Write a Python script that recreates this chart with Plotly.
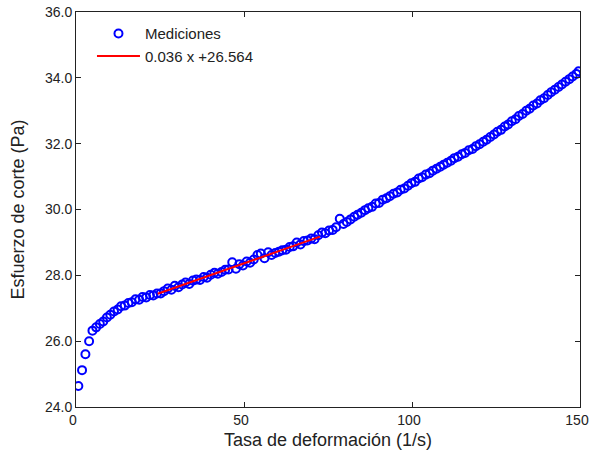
import plotly.graph_objects as go

# Shear-rate sweep: measured shear stress
tasa = [
    0.7, 1.8, 2.8, 3.9, 4.9, 6.0, 7.1, 8.1, 9.2, 10.2, 11.3, 12.4, 13.4, 14.5, 15.6,
    16.6, 17.7, 18.8, 19.8, 20.9, 22.0, 23.0, 24.1, 25.2, 26.2, 27.3, 28.4, 29.4, 30.5,
    31.6, 32.6, 33.7, 34.8, 35.8, 36.9, 38.0, 39.0, 40.1, 41.2, 42.2, 43.3, 44.4, 45.4,
    46.5, 47.6, 48.6, 49.7, 50.8, 51.8, 52.9, 54.0, 55.0, 56.1, 57.2, 58.2, 59.3, 60.4,
    61.4, 62.5, 63.6, 64.6, 65.7, 66.8, 67.8, 68.9, 70.0, 71.0, 72.1, 73.2, 74.2, 75.3,
    76.4, 77.4, 78.5, 79.6, 80.6, 81.7, 82.8, 83.8, 84.9, 86.0, 87.0, 88.1, 89.2, 90.2,
    91.3, 92.4, 93.4, 94.5, 95.6, 96.6, 97.7, 98.8, 99.8, 100.9, 102.0, 103.0, 104.1,
    105.2, 106.2, 107.3, 108.4, 109.4, 110.5, 111.6, 112.6, 113.7, 114.8, 115.8, 116.9,
    118.0, 119.0, 120.1, 121.2, 122.2, 123.3, 124.4, 125.4, 126.5, 127.6, 128.6, 129.7,
    130.8, 131.8, 132.9, 134.0, 135.0, 136.1, 137.2, 138.2, 139.3, 140.4, 141.4, 142.5,
    143.6, 144.6, 145.7, 146.8, 147.8, 148.9, 149.6,
]
esfuerzo = [
    24.64, 25.12, 25.60, 26.00, 26.32, 26.42, 26.52, 26.60, 26.72, 26.80, 26.90, 26.96,
    27.06, 27.08, 27.16, 27.18, 27.27, 27.26, 27.34, 27.33, 27.40, 27.39, 27.45, 27.45,
    27.52, 27.60, 27.56, 27.68, 27.64, 27.72, 27.78, 27.74, 27.84, 27.87, 27.86, 27.95,
    27.93, 28.02, 28.08, 28.05, 28.10, 28.17, 28.18, 28.40, 28.20, 28.34, 28.30, 28.42,
    28.38, 28.48, 28.62, 28.66, 28.52, 28.70, 28.62, 28.68, 28.72, 28.76, 28.78, 28.86,
    28.88, 29.00, 28.94, 29.04, 29.06, 29.12, 29.10, 29.22, 29.30, 29.28, 29.36, 29.38,
    29.46, 29.72, 29.56, 29.62, 29.70, 29.78, 29.84, 29.90, 29.98, 30.04, 30.08, 30.18,
    30.20, 30.30, 30.34, 30.40, 30.48, 30.52, 30.60, 30.64, 30.72, 30.80, 30.84, 30.94,
    30.98, 31.06, 31.10, 31.18, 31.24, 31.30, 31.36, 31.42, 31.48, 31.56, 31.60, 31.68,
    31.72, 31.80, 31.84, 31.92, 31.98, 32.06, 32.12, 32.20, 32.28, 32.36, 32.42, 32.52,
    32.58, 32.68, 32.74, 32.84, 32.90, 33.00, 33.06, 33.16, 33.22, 33.32, 33.38, 33.48,
    33.56, 33.64, 33.72, 33.80, 33.88, 33.96, 34.04, 34.12, 34.20,
]

# Linear fit over the middle range
pendiente = 0.036
intercepto = 26.564
ajuste_x = [24.3, 72.6]
ajuste_y = [pendiente * v + intercepto for v in ajuste_x]

x_ticks = [0, 50, 100, 150]
y_ticks = [24, 26, 28, 30, 32, 34, 36]

FONT = "Liberation Sans, Arial, sans-serif"
INK = "#222222"

fig = go.Figure()
fig.add_trace(go.Scatter(
    x=tasa, y=esfuerzo, mode="markers", name="Mediciones",
    marker=dict(symbol="circle-open", size=8, color="#0000ff",
                line=dict(width=2, color="#0000ff")),
))
fig.add_trace(go.Scatter(
    x=ajuste_x, y=ajuste_y, mode="lines",
    name=f"{pendiente:.3f} x +{intercepto:.3f}",
    line=dict(color="#ff0000", width=2),
))

axis_common = dict(
    showline=True, linecolor=INK, linewidth=1, mirror="ticks",
    ticks="inside", ticklen=5, tickcolor=INK,
    showgrid=False, zeroline=False, automargin=False,
    ticklabeloverflow="allow",
    tickfont=dict(family=FONT, size=14, color=INK),
)

fig.update_layout(
    width=590, height=454,
    margin=dict(l=76, r=10, t=12, b=47),
    paper_bgcolor="white", plot_bgcolor="white",
    font=dict(family=FONT, color=INK),
    xaxis=dict(
        range=[0, 150], tickvals=x_ticks, ticktext=[str(v) for v in x_ticks],
        ticklabelshift=-3,
        title=dict(text="Tasa de deformación (1/s)", standoff=6,
                   font=dict(family=FONT, size=18, color=INK)),
        **axis_common,
    ),
    yaxis=dict(
        range=[24, 36], tickvals=y_ticks, ticktext=[f"{v:.1f}" for v in y_ticks],
        title=dict(text="Esfuerzo de corte (Pa)", standoff=15,
                   font=dict(family=FONT, size=18, color=INK)),
        **axis_common,
    ),
    showlegend=True,
    legend=dict(
        x=0.0317, y=0.9865, xanchor="left", yanchor="top",
        bgcolor="rgba(0,0,0,0)", borderwidth=0,
        font=dict(family=FONT, size=15, color=INK),
        itemwidth=43,
    ),
)

fig.write_html("out.html")
